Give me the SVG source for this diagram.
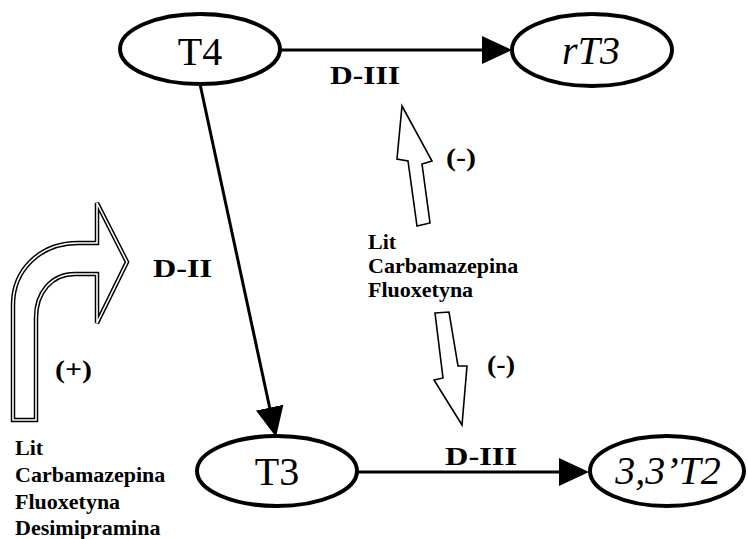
<svg xmlns="http://www.w3.org/2000/svg" width="748" height="539" viewBox="0 0 748 539" font-family="'Liberation Serif', Tinos, 'Times New Roman', 'DejaVu Serif', serif">
<style>
  .ell { fill: #fff; stroke: #000; stroke-width: 4; }
  .nt { font-size: 40px; fill: #000; text-anchor: middle; }
  .it { font-style: italic; }
  .lbl { font-size: 25px; font-weight: bold; fill: #000; }
  .drug { font-size: 22px; font-weight: bold; fill: #000; }
  .edge { stroke: #000; stroke-width: 3; fill: none; }
  .hollow { fill: #fff; stroke: #000; stroke-width: 1.6; stroke-linejoin: miter; }
  .dbl-out { fill: #fff; stroke: #000; stroke-width: 4.5; }
  .dbl-in { fill: none; stroke: #fff; stroke-width: 1.6; }
</style>
<defs>
  <marker id="ah" markerUnits="userSpaceOnUse" markerWidth="30" markerHeight="28" viewBox="0 0 30 28" refX="20" refY="14" orient="auto">
    <path d="M0,0 L30,14 L0,28 Z" fill="#000"/>
  </marker>
  <path id="bent" d="M13,420 L13,305 C13,270 40,243 78,243 L97,243 L97,203 L127,262 L97,323 L97,274 L75,274 C52,274 36,292 36,318 L36,420 Z"/>
</defs>

<g id="connectors">
  <line class="edge" x1="281" y1="50" x2="502" y2="50" marker-end="url(#ah)"/>
  <line class="edge" x1="357" y1="472" x2="579" y2="472" marker-end="url(#ah)"/>
  <line class="edge" x1="200" y1="84" x2="273.9" y2="427.2" marker-end="url(#ah)"/>
</g>

<g id="node-T4">
  <ellipse class="ell" cx="200" cy="49" rx="80" ry="35"/>
  <text class="nt" x="200" y="65">T4</text>
</g>
<g id="node-rT3">
  <ellipse class="ell" cx="592" cy="50" rx="80" ry="36"/>
  <text class="nt it" x="591" y="64">rT3</text>
</g>
<g id="node-T3">
  <ellipse class="ell" cx="277" cy="471" rx="80" ry="35"/>
  <text class="nt" x="277" y="485">T3</text>
</g>
<g id="node-T2">
  <ellipse class="ell" cx="667" cy="471" rx="77" ry="35"/>
  <text class="nt it" x="668" y="484">3,3’T2</text>
</g>

<g id="labels">
  <text class="lbl" x="330" y="84" textLength="70" lengthAdjust="spacingAndGlyphs">D-III</text>
  <text class="lbl" x="445" y="465" textLength="72" lengthAdjust="spacingAndGlyphs">D-III</text>
  <text class="lbl" x="153" y="277" textLength="59" lengthAdjust="spacingAndGlyphs">D-II</text>
</g>

<g id="bent-arrow">
  <use href="#bent" class="dbl-out"/>
  <use href="#bent" class="dbl-in"/>
  <text class="lbl" x="55" y="378" textLength="37" lengthAdjust="spacingAndGlyphs">(+)</text>
</g>

<g id="left-drugs">
  <text class="drug" x="15" y="455">Lit</text>
  <text class="drug" x="15" y="482">Carbamazepina</text>
  <text class="drug" x="15" y="509">Fluoxetyna</text>
  <text class="drug" x="15" y="535">Desimipramina</text>
</g>

<g id="up-arrow">
  <polygon class="hollow" points="402,106 432,161 422,164 430,223 417,226 408,161 397,159"/>
  <text class="lbl" x="446" y="166" textLength="30" lengthAdjust="spacingAndGlyphs">(-)</text>
</g>

<g id="mid-drugs">
  <text class="drug" x="368" y="249">Lit</text>
  <text class="drug" x="368" y="273">Carbamazepina</text>
  <text class="drug" x="368" y="297">Fluoxetyna</text>
</g>

<g id="down-arrow">
  <polygon class="hollow" points="435,313 449,312 458,366 467,366 462,425 434,380 443,378"/>
  <text class="lbl" x="487" y="373" textLength="28" lengthAdjust="spacingAndGlyphs">(-)</text>
</g>
</svg>
